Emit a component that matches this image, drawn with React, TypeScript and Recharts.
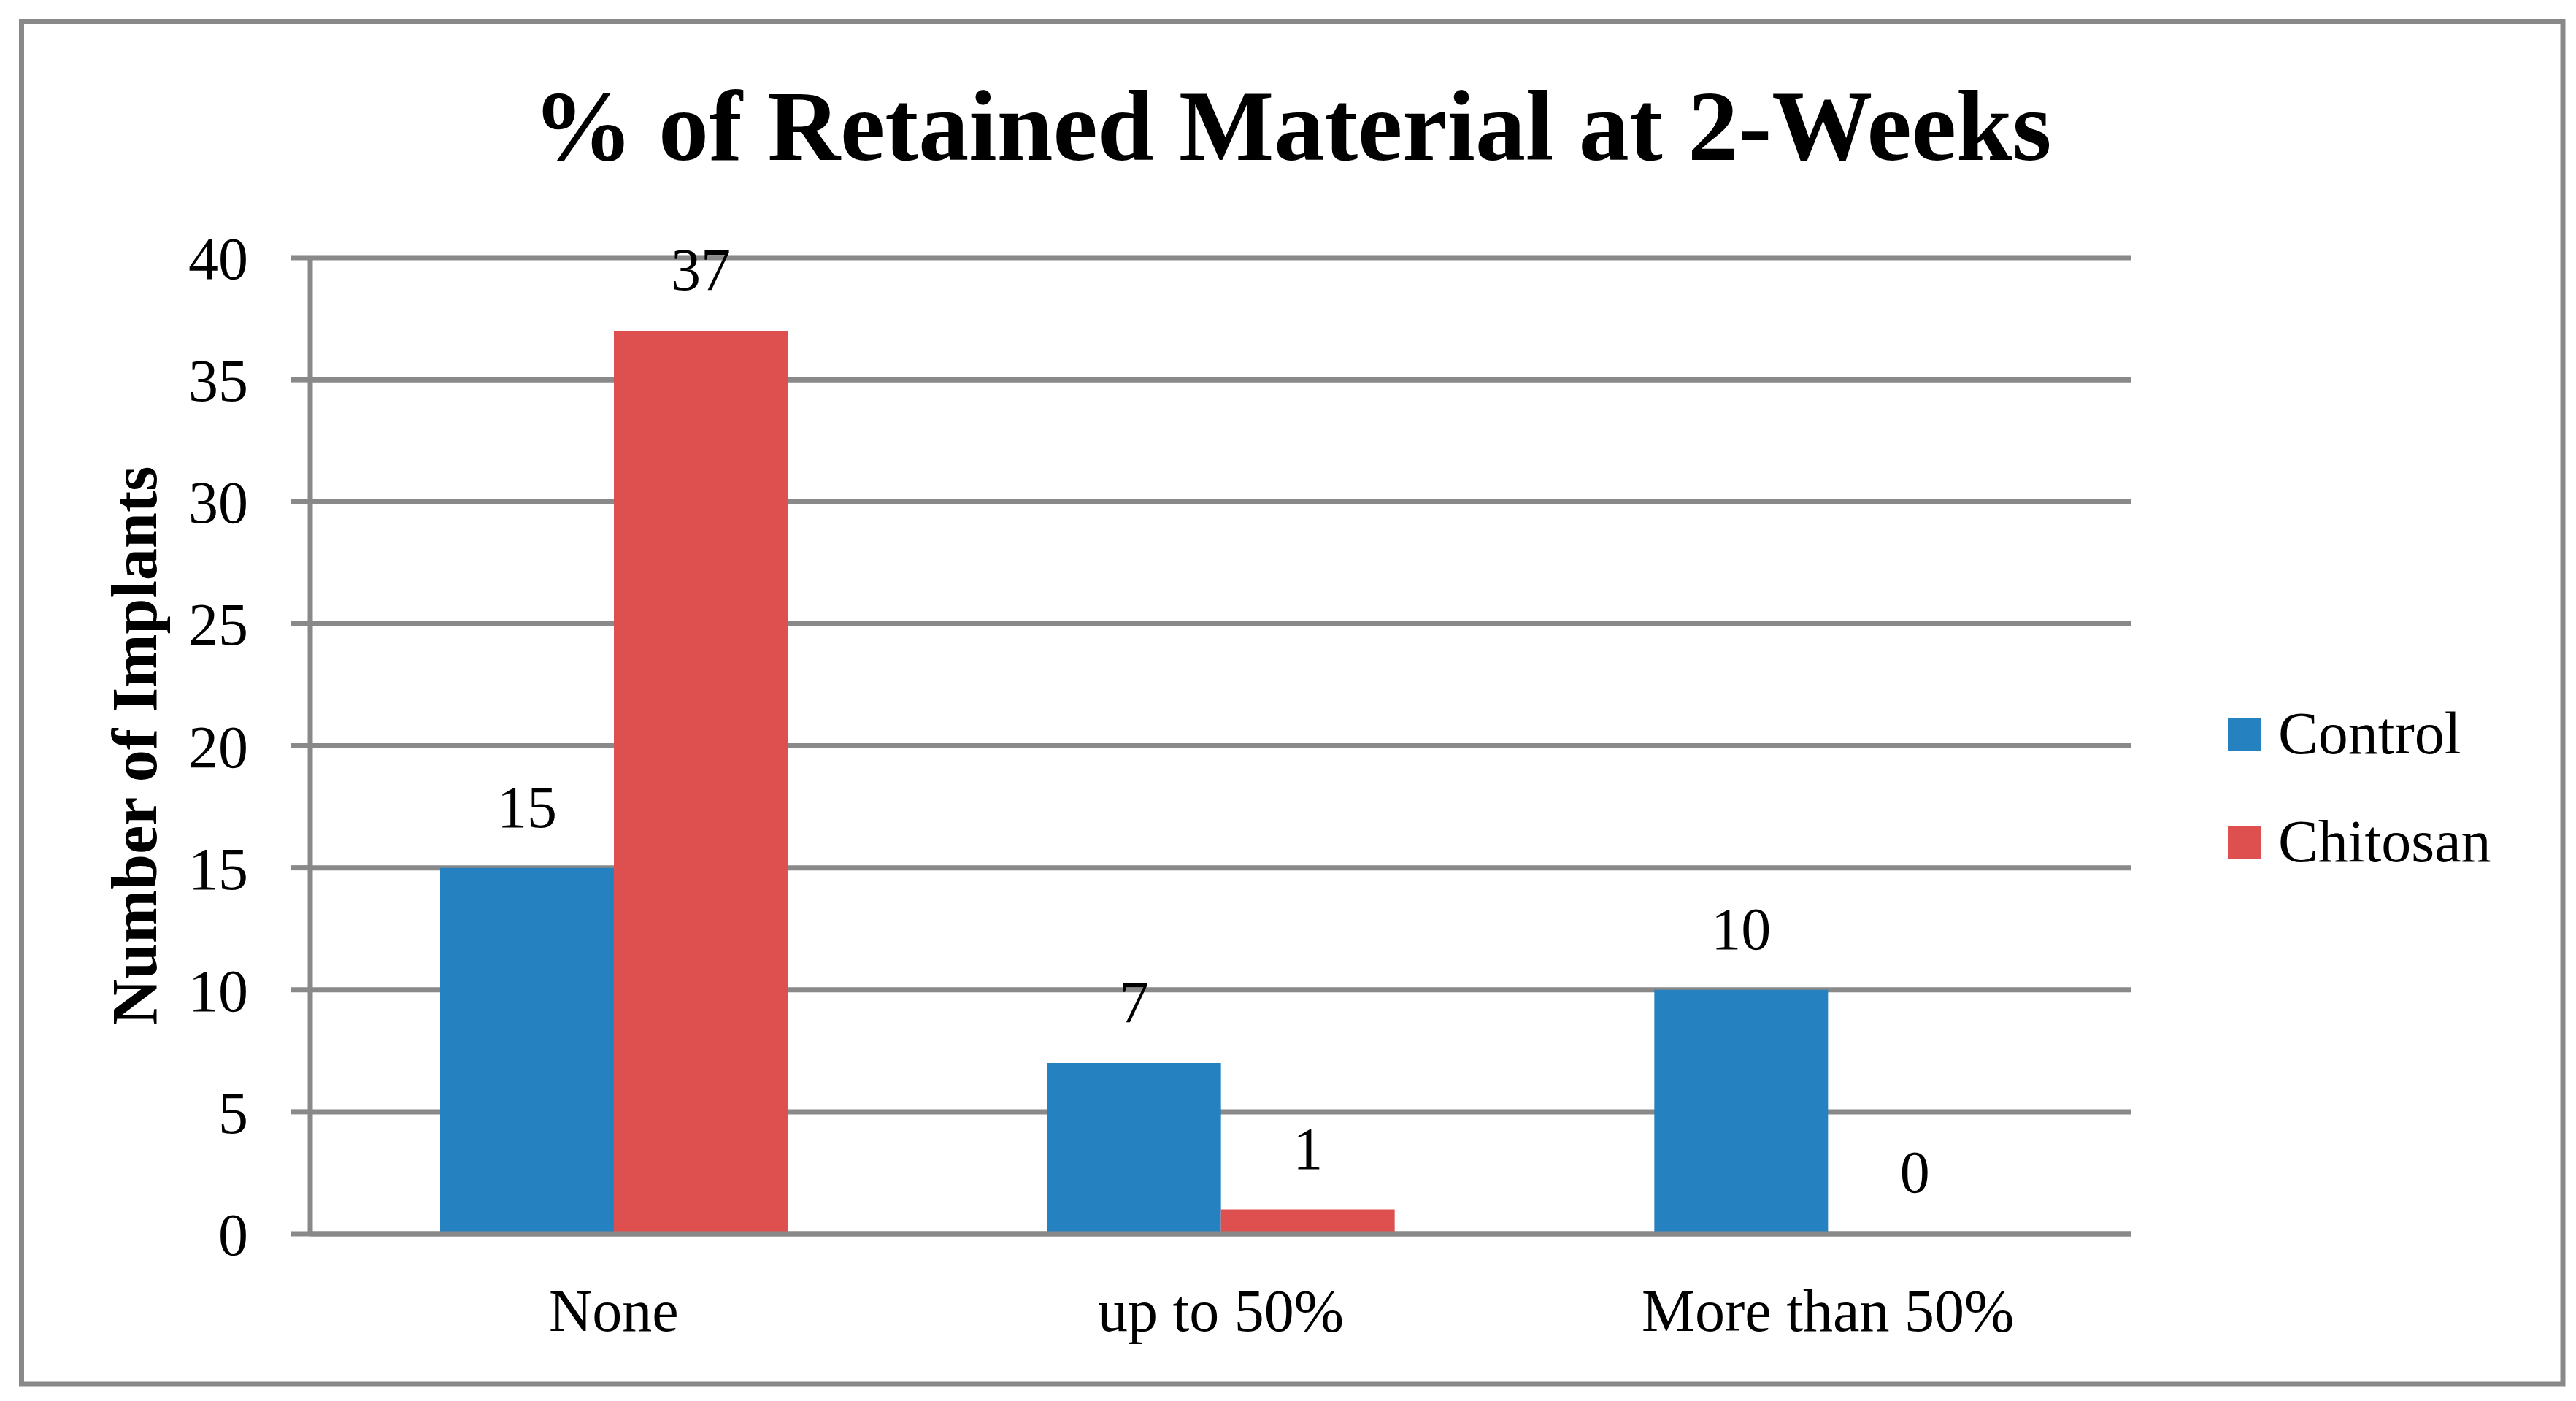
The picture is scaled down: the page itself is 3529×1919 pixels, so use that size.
import { BarChart, Bar, XAxis, YAxis, CartesianGrid, Legend, LabelList, Label } from "recharts";

const categories = ["None", "up to 50%", "More than 50%"];
const controlValues = [15, 7, 10];
const chitosanValues = [37, 1, 0];
const seriesOrder = ["Control", "Chitosan"];
const yTicks = [0, 5, 10, 15, 20, 25, 30, 35, 40];

const data = categories.map((name, i) => ({
  name,
  control: controlValues[i],
  chitosan: chitosanValues[i],
}));

const FONT = "'Liberation Serif', 'DejaVu Serif', serif";
const GRAY = "#898989";
const BLUE = "#2581c0";
const RED = "#de5050";

const renderLegend = (props: any) => {
  const payload = [...(props.payload || [])].sort(
    (a: any, b: any) => seriesOrder.indexOf(a.value) - seriesOrder.indexOf(b.value)
  );
  return (
    <div>
      {payload.map((entry: any) => (
        <div
          key={entry.value}
          style={{ display: "flex", alignItems: "center", height: 148 }}
        >
          <span
            style={{
              display: "inline-block",
              width: 45,
              height: 45,
              background: entry.color,
              marginRight: 24,
            }}
          />
          <span style={{ fontSize: 82, lineHeight: 1, fontFamily: FONT, color: "#000" }}>
            {entry.value}
          </span>
        </div>
      ))}
    </div>
  );
};

const App = () => {
  return (
    <div style={{ position: "absolute", left: 0, top: 0, width: 3529, height: 1919, background: "#fff" }}>
      <svg width={3529} height={1919} style={{ position: "absolute", left: 0, top: 0 }}>
        <rect x={29.5} y={29.5} width={3481.5} height={1866.5} fill="none" stroke={GRAY} strokeWidth={7} />
        <text
          x={1770}
          y={219}
          textAnchor="middle"
          fontFamily={FONT}
          fontWeight="bold"
          fontSize={138}
          fill="#000"
        >
          % of Retained Material at 2-Weeks
        </text>
      </svg>
      <div style={{ position: "absolute", left: 0, top: 0 }}>
        <BarChart
          width={3529}
          height={1919}
          data={data}
          margin={{ top: 353, right: 609, left: 0, bottom: 29 }}
          barGap={0}
        >
          <CartesianGrid vertical={false} stroke={GRAY} strokeWidth={7} />
          <XAxis
            dataKey="name"
            height={200}
            axisLine={{ stroke: GRAY, strokeWidth: 7 }}
            tickLine={false}
            tickSize={0}
            tickMargin={75}
            tick={{ fontSize: 82, fontFamily: FONT, fill: "#000" }}
          />
          <YAxis
            width={425}
            domain={[0, 40]}
            ticks={yTicks}
            interval={0}
            axisLine={{ stroke: GRAY, strokeWidth: 7 }}
            tickLine={{ stroke: GRAY, strokeWidth: 7 }}
            tickSize={27}
            tickMargin={58}
            tick={{ fontSize: 82, fontFamily: FONT, fill: "#000" }}
          >
            <Label
              value="Number of Implants"
              angle={-90}
              position="center"
              dx={-30}
              style={{ fontSize: 88, fontFamily: FONT, fontWeight: "bold", fill: "#000" }}
            />
          </YAxis>
          <Legend
            layout="horizontal"
            verticalAlign="middle"
            align="center"
            wrapperStyle={{ left: 3052, top: 931, width: 420 }}
            content={renderLegend}
          />
          <Bar dataKey="control" name="Control" fill={BLUE} barSize={238} isAnimationActive={false}>
            <LabelList
              dataKey="control"
              position="top"
              offset={56}
              style={{ fontSize: 82, fontFamily: FONT, fill: "#000" }}
            />
          </Bar>
          <Bar
            dataKey="chitosan"
            name="Chitosan"
            fill={RED}
            barSize={238}
            minPointSize={1}
            isAnimationActive={false}
          >
            <LabelList
              dataKey="chitosan"
              position="top"
              offset={56}
              style={{ fontSize: 82, fontFamily: FONT, fill: "#000" }}
            />
          </Bar>
        </BarChart>
      </div>
    </div>
  );
};

export default App;
